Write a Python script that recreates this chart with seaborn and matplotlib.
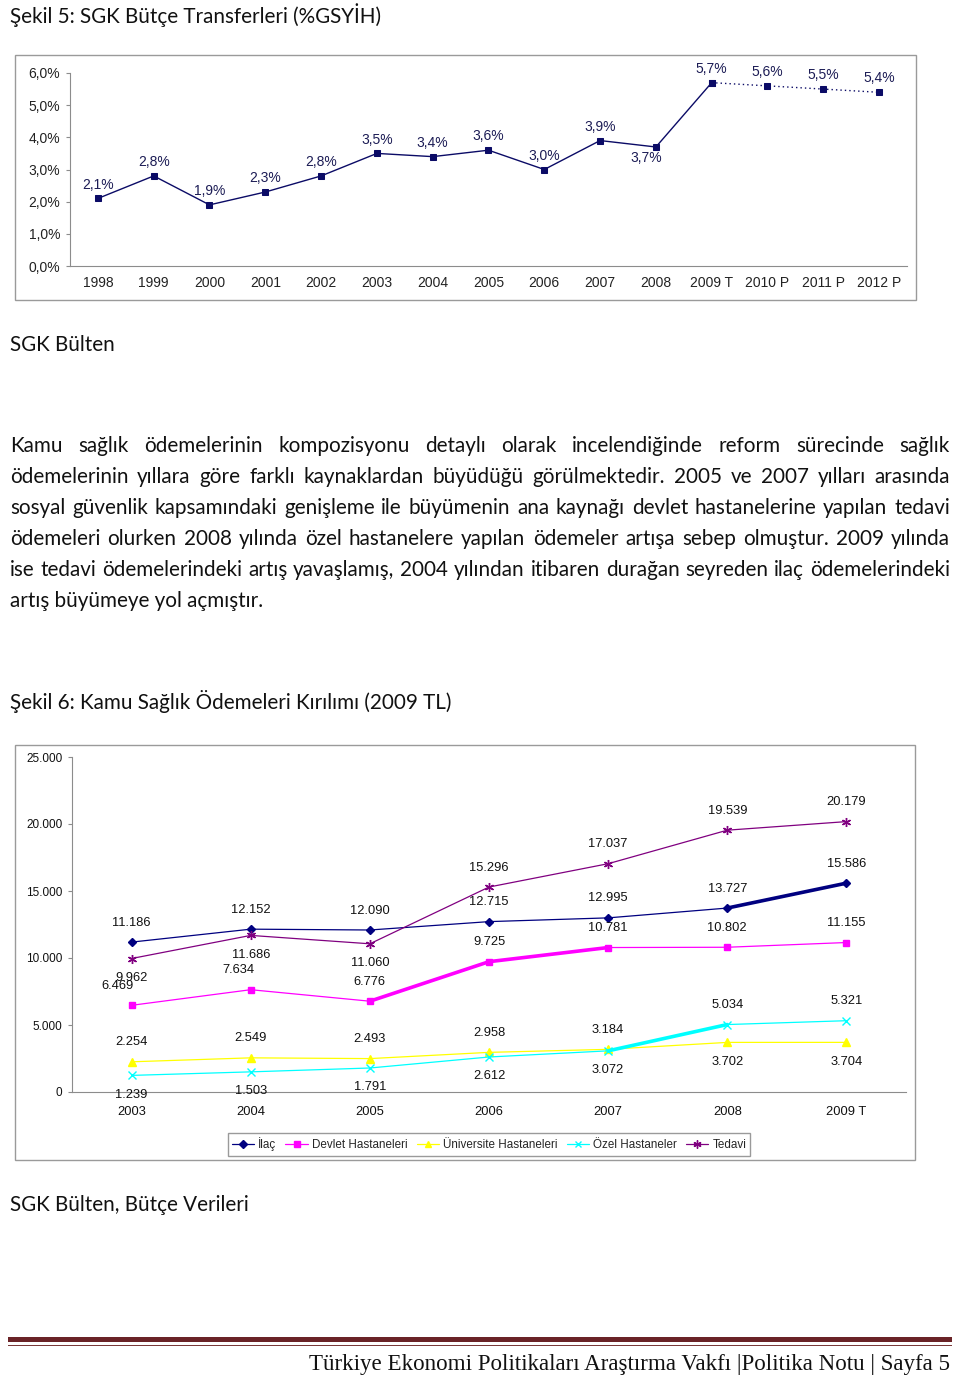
import numpy as np
import pandas as pd
import matplotlib
matplotlib.use("Agg")
import matplotlib.pyplot as plt
import seaborn as sns
from matplotlib.lines import Line2D
from matplotlib.patches import Rectangle
from matplotlib.ticker import FuncFormatter

# ---------------- data ----------------
TOP_YEARS = ["1998", "1999", "2000", "2001", "2002", "2003", "2004", "2005",
             "2006", "2007", "2008", "2009 T", "2010 P", "2011 P", "2012 P"]
TOP_VALUES = [2.1, 2.8, 1.9, 2.3, 2.8, 3.5, 3.4, 3.6, 3.0, 3.9, 3.7, 5.7, 5.6, 5.5, 5.4]
TOP_ACTUAL = 12  # 1998 - 2009 T gerceklesme, sonrasi projeksiyon

YEARS = ["2003", "2004", "2005", "2006", "2007", "2008", "2009 T"]
ILAC       = [11186, 12152, 12090, 12715, 12995, 13727, 15586]
DEVLET     = [6469, 7634, 6776, 9725, 10781, 10802, 11155]
UNIVERSITE = [2254, 2549, 2493, 2958, 3184, 3702, 3704]
OZEL       = [1239, 1503, 1791, 2612, 3072, 5034, 5321]
TEDAVI     = [9962, 11686, 11060, 15296, 17037, 19539, 20179]
SERIES = ["İlaç", "Devlet Hastaneleri", "Üniversite Hastaneleri", "Özel Hastaneler", "Tedavi"]
VALUES = [ILAC, DEVLET, UNIVERSITE, OZEL, TEDAVI]

TITLE_1 = "Şekil 5: SGK Bütçe Transferleri (%GSYİH)"
SOURCE_1 = "SGK Bülten"
TITLE_2 = "Şekil 6: Kamu Sağlık Ödemeleri Kırılımı (2009 TL)"
SOURCE_2 = "SGK Bülten, Bütçe Verileri"
BODY = [
    "Kamu sağlık ödemelerinin kompozisyonu detaylı olarak incelendiğinde reform sürecinde sağlık",
    "ödemelerinin yıllara göre farklı kaynaklardan büyüdüğü görülmektedir. 2005 ve 2007 yılları arasında",
    "sosyal güvenlik kapsamındaki genişleme ile büyümenin ana kaynağı devlet hastanelerine yapılan tedavi",
    "ödemeleri olurken 2008 yılında özel hastanelere yapılan ödemeler artışa sebep olmuştur. 2009 yılında",
    "ise tedavi ödemelerindeki artış yavaşlamış, 2004 yılından itibaren durağan seyreden ilaç ödemelerindeki",
    "artış büyümeye yol açmıştır.",
]
FOOTER = "Türkiye Ekonomi Politikaları Araştırma Vakfı |Politika Notu | Sayfa 5"

# ---------------- style ----------------
NAVY = "#0b0b66"
COLORS = {"İlaç": "#000080", "Devlet Hastaneleri": "#ff00ff",
          "Üniversite Hastaneleri": "#ffff00", "Özel Hastaneler": "#00ffff",
          "Tedavi": "#800080"}
MARKERS = {"İlaç": "D", "Devlet Hastaneleri": "s", "Üniversite Hastaneleri": "^",
           "Özel Hastaneler": "x", "Tedavi": (6, 2, 0)}
MSIZE = {"İlaç": 4.5, "Devlet Hastaneleri": 4.5, "Üniversite Hastaneleri": 5.5,
         "Özel Hastaneler": 5.5, "Tedavi": 6.5}
# kalin cizilen bolumler (baslangic, bitis indeksi)
THICK = {"İlaç": (5, 6), "Devlet Hastaneleri": (2, 4), "Özel Hastaneler": (4, 5)}
# etiket yonu: 1 = ustte, -1 = altta
SIDE = {"İlaç": [1] * 7, "Devlet Hastaneleri": [1] * 7,
        "Üniversite Hastaneleri": [1, 1, 1, 1, 1, -1, -1],
        "Özel Hastaneler": [-1, -1, -1, -1, -1, 1, 1],
        "Tedavi": [-1, -1, -1, 1, 1, 1, 1]}
SHIFT = {"Devlet Hastaneleri": [-10, -9, 0, 0, 0, 0, 0]}

W, H = 960, 1375
BODY_FONT = "Lato"
CHART_FONT = "Liberation Sans"
GRID_GREY = "#8c8c8c"

sns.set_style("white")
plt.rcParams["font.family"] = [CHART_FONT, "DejaVu Sans"]


def fx(x):
    return x / W


def fy(y):
    return 1 - y / H


fig = plt.figure(figsize=(W / 100, H / 100), dpi=100)
renderer = fig.canvas.get_renderer()

# chart frames
for (x0, y0, x1, y1) in [(15, 55, 916, 300), (15, 745, 915, 1160)]:
    fig.add_artist(Rectangle((fx(x0), fy(y1)), (x1 - x0) / W, (y1 - y0) / H,
                             transform=fig.transFigure, fill=False,
                             edgecolor="#9a9a9a", lw=1.0))


def style_axis(ax, n):
    sns.despine(ax=ax)
    for side in ["left", "bottom"]:
        ax.spines[side].set_color(GRID_GREY)
        ax.spines[side].set_linewidth(0.8)
    ax.set_xlim(-0.5, n - 0.5)
    ax.set_xticks(np.arange(n + 1) - 0.5, minor=True)
    ax.tick_params(axis="x", which="major", length=0)
    ax.tick_params(axis="x", which="minor", length=3.5, color=GRID_GREY, width=0.8, direction="out")
    ax.tick_params(axis="y", which="major", length=3, color=GRID_GREY, width=0.8,
                   direction="out", left=True)
    ax.set_xlabel("")
    ax.set_ylabel("")
    ax.grid(False)


# ---------------- chart 1 ----------------
ax1 = fig.add_axes([fx(70), fy(266), (907 - 70) / W, (266 - 73) / H])
df_top = pd.DataFrame({"Yıl": TOP_YEARS, "Oran": TOP_VALUES})
sns.lineplot(data=df_top.iloc[:TOP_ACTUAL], x="Yıl", y="Oran", ax=ax1, color=NAVY,
             marker="s", markersize=3.8, markeredgecolor=NAVY, linewidth=1.0, sort=False)
sns.lineplot(data=df_top.iloc[TOP_ACTUAL - 1:], x="Yıl", y="Oran", ax=ax1, color=NAVY,
             marker="s", markersize=3.8, markeredgecolor=NAVY, linewidth=1.0,
             linestyle=(0, (1, 2.2)), sort=False)
ax1.set_ylim(0, 6)
ax1.set_yticks(np.arange(0, 7))
ax1.yaxis.set_major_formatter(FuncFormatter(lambda v, p: f"{v:.1f}".replace(".", ",") + "%"))
style_axis(ax1, len(TOP_YEARS))
ax1.tick_params(axis="x", which="major", pad=7, labelsize=10, labelcolor="#222222")
ax1.tick_params(axis="y", pad=4, labelsize=10, labelcolor="#222222")

for i, (yr, v) in enumerate(zip(TOP_YEARS, TOP_VALUES)):
    off = (0, 10)
    if yr == "2008":
        off = (-7, -8)
    ax1.annotate(f"{v:.1f}".replace(".", ",") + "%", (yr, v), xytext=off,
                 textcoords="offset points", ha="center", va="center",
                 fontsize=10, color="#1c1c55")

# ---------------- chart 2 ----------------
ax2 = fig.add_axes([fx(72), fy(1092), (906 - 72) / W, (1092 - 757) / H])
for name, vals in zip(SERIES, VALUES):
    sns.lineplot(x=YEARS, y=vals, ax=ax2, color=COLORS[name], marker=MARKERS[name],
                 markersize=MSIZE[name], markeredgecolor=COLORS[name], markeredgewidth=1.0,
                 linewidth=0.9, sort=False, legend=False)
    if name in THICK:
        a, b = THICK[name]
        ax2.plot(YEARS[a:b + 1], vals[a:b + 1], color=COLORS[name], lw=2.6,
                 solid_capstyle="round")
    shifts = SHIFT.get(name, [0] * len(YEARS))
    for yr, v, s, dx in zip(YEARS, vals, SIDE[name], shifts):
        ax2.annotate(f"{v:,}".replace(",", "."), (yr, v), xytext=(dx, 14 * s),
                     textcoords="offset points", ha="center", va="center",
                     fontsize=9.3, color="#111111")

ax2.set_ylim(0, 25000)
ax2.set_yticks(np.arange(0, 25001, 5000))
ax2.yaxis.set_major_formatter(FuncFormatter(lambda v, p: f"{v:,.0f}".replace(",", ".")))
style_axis(ax2, len(YEARS))
ax2.tick_params(axis="x", which="major", pad=10, labelsize=9.3, labelcolor="#111111")
ax2.tick_params(axis="y", pad=4, labelsize=8.5, labelcolor="#111111")

handles = [Line2D([], [], color=COLORS[n], marker=MARKERS[n], markersize=MSIZE[n] * 0.9,
                  markeredgecolor=COLORS[n], lw=0.9) for n in SERIES]
fig.legend(handles, SERIES, loc="center", bbox_to_anchor=(fx(489), fy(1144.5)),
           ncol=5, frameon=True, fancybox=False, edgecolor="#9a9a9a", framealpha=1,
           fontsize=8.4, handlelength=1.9, handletextpad=0.35, columnspacing=0.8,
           borderpad=0.35, borderaxespad=0)


# ---------------- text ----------------
def text_width(s, size, family):
    t = fig.text(0, 0, s, fontsize=size, family=family)
    w = t.get_window_extent(renderer).width
    t.remove()
    return w


body_size = 10 * 253 / text_width(BODY[-1], 10, BODY_FONT)
widest = max(text_width(line, body_size, BODY_FONT) for line in BODY[:-1])
if widest > 936:
    body_size *= 936 / widest


def justify(line, x0, x1, y, size):
    words = line.split(" ")
    widths = [text_width(w, size, BODY_FONT) for w in words]
    gap = (x1 - x0 - sum(widths)) / (len(words) - 1)
    x = x0
    for w, wd in zip(words, widths):
        fig.text(fx(x), fy(y), w, fontsize=size, family=BODY_FONT, va="baseline",
                 color="#111111")
        x += wd + gap


for k, line in enumerate(BODY):
    base = 452 + 31 * k
    if k < len(BODY) - 1:
        justify(line, 10, 950, base, body_size)
    else:
        fig.text(fx(10), fy(base), line, fontsize=body_size, family=BODY_FONT,
                 va="baseline", color="#111111")

for s, base in [(TITLE_1, 23), (SOURCE_1, 351), (TITLE_2, 709), (SOURCE_2, 1211)]:
    fig.text(fx(10), fy(base), s, fontsize=body_size, family=BODY_FONT,
             va="baseline", color="#111111")

# footer
fig.add_artist(Rectangle((fx(8), fy(1342)), 944 / W, 5 / H, transform=fig.transFigure,
                         facecolor="#6a2327", edgecolor="none"))
fig.add_artist(Rectangle((fx(8), fy(1346)), 944 / W, 1.2 / H, transform=fig.transFigure,
                         facecolor="#7a3a3a", edgecolor="none"))
foot_size = 10 * 645 / text_width(FOOTER, 10, "Liberation Serif")
fig.text(fx(950), fy(1370), FOOTER, fontsize=foot_size, family="Liberation Serif",
         ha="right", va="baseline", color="#111111")

fig.savefig("out.png", dpi=100)
